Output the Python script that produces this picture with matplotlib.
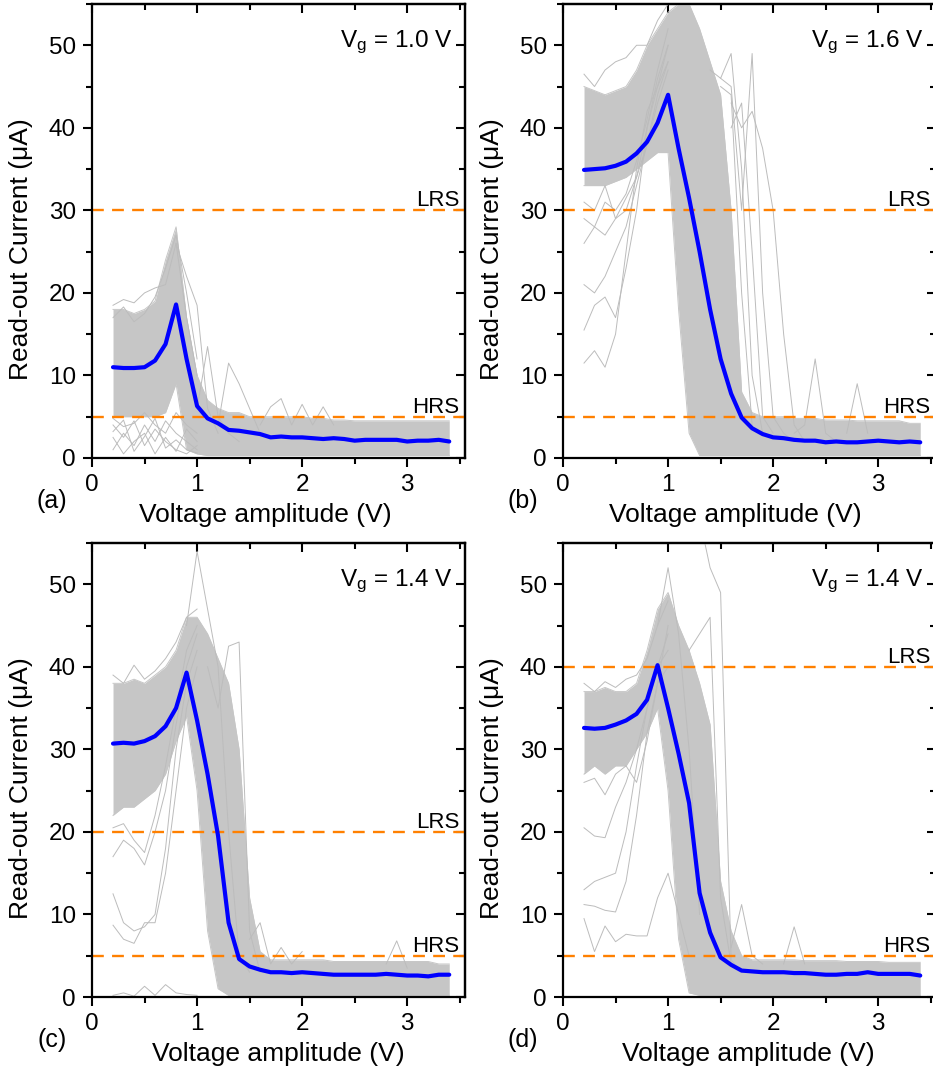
import numpy as np
import matplotlib.pyplot as plt
from matplotlib.ticker import MultipleLocator, NullFormatter

plt.rcParams['font.family'] = ['Liberation Sans', 'DejaVu Sans']
plt.rcParams['mathtext.fontset'] = 'custom'
plt.rcParams['mathtext.rm'] = 'Liberation Sans'
plt.rcParams['mathtext.it'] = 'Liberation Sans'

# voltage sweep (V)
volt = [0.2, 0.3, 0.4, 0.5, 0.6, 0.7, 0.8, 0.9, 1.0, 1.1, 1.2, 1.3, 1.4, 1.5, 1.6, 1.7, 1.8,
        1.9, 2.0, 2.1, 2.2, 2.3, 2.4, 2.5, 2.6, 2.7, 2.8, 2.9, 3.0, 3.1, 3.2, 3.3, 3.4]
x9 = [0.2, 0.3, 0.4, 0.5, 0.6, 0.7, 0.8, 0.9, 1.0]

# average read-out current (uA)
a_mean = [11.0, 10.9, 10.9, 11.0, 11.8, 13.8, 18.6, 12.0, 6.3, 4.8, 4.2, 3.4, 3.3, 3.1, 2.9, 2.5, 2.6,
          2.5, 2.5, 2.4, 2.3, 2.4, 2.3, 2.1, 2.2, 2.2, 2.2, 2.2, 2.0, 2.1, 2.1, 2.2, 2.0]
b_mean = [34.9, 35.0, 35.1, 35.4, 35.9, 36.9, 38.3, 40.6, 44.0, 37.5, 31.5, 25.0, 18.0, 12.0, 7.8, 4.9, 3.6,
          2.9, 2.5, 2.4, 2.2, 2.1, 2.1, 1.9, 2.0, 1.9, 1.9, 2.0, 2.1, 2.0, 1.9, 2.0, 1.9]
c_mean = [30.7, 30.8, 30.7, 31.0, 31.6, 32.8, 35.0, 39.3, 33.5, 27.0, 19.5, 9.0, 4.6, 3.7, 3.3, 3.0, 3.0,
          2.9, 3.0, 2.9, 2.8, 2.7, 2.7, 2.7, 2.7, 2.7, 2.8, 2.7, 2.6, 2.6, 2.5, 2.7, 2.7]
d_mean = [32.6, 32.5, 32.6, 33.0, 33.5, 34.3, 36.0, 40.2, 35.0, 29.5, 23.5, 12.6, 7.8, 4.8, 3.9, 3.2, 3.1,
          3.0, 3.0, 3.0, 2.9, 2.9, 2.8, 2.7, 2.7, 2.8, 2.8, 3.0, 2.8, 2.8, 2.8, 2.8, 2.6]

# dense band of the individual cycles (lower / upper edge)
a_lo = [5.0, 5.0, 5.0, 5.0, 5.0, 5.5, 9.0, 1.0, 0.5, 0.3, 0.3, 0.3, 0.3, 0.3, 0.3, 0.3, 0.3,
        0.3, 0.3, 0.3, 0.3, 0.3, 0.3, 0.3, 0.3, 0.3, 0.3, 0.3, 0.3, 0.3, 0.3, 0.3, 0.3]
a_hi = [18.0, 18.0, 17.5, 18.0, 19.0, 24.0, 28.0, 17.0, 10.0, 7.0, 6.0, 5.5, 5.5, 5.0, 5.0, 5.0, 5.0,
        5.0, 5.0, 4.8, 4.8, 4.6, 4.6, 4.5, 4.5, 4.5, 4.5, 4.5, 4.5, 4.5, 4.5, 4.5, 4.5]
b_lo = [33.0, 33.0, 33.0, 33.5, 34.0, 35.0, 36.0, 37.0, 37.0, 18.0, 3.0, 0.3, 0.3, 0.3, 0.3, 0.3, 0.3,
        0.3, 0.3, 0.3, 0.3, 0.3, 0.3, 0.3, 0.3, 0.3, 0.3, 0.3, 0.3, 0.3, 0.3, 0.3, 0.3]
b_hi = [45.0, 44.5, 44.0, 44.5, 45.0, 47.0, 50.0, 52.0, 54.0, 55.0, 55.0, 52.0, 48.0, 44.0, 30.0, 8.0, 5.5,
        5.0, 5.0, 5.0, 4.8, 4.8, 4.8, 4.6, 4.6, 4.6, 4.5, 4.5, 4.5, 4.5, 4.5, 4.2, 4.2]
c_lo = [22.0, 23.0, 23.0, 24.0, 25.0, 27.0, 31.0, 34.0, 25.0, 8.0, 1.0, 0.2, 0.2, 0.2, 0.2, 0.2, 0.2,
        0.2, 0.2, 0.2, 0.2, 0.2, 0.2, 0.2, 0.2, 0.2, 0.2, 0.2, 0.2, 0.2, 0.2, 0.2, 0.2]
c_hi = [38.0, 38.0, 38.5, 38.0, 39.0, 40.0, 42.0, 46.0, 46.0, 44.0, 41.0, 38.0, 30.0, 12.0, 5.5, 4.5, 4.5,
        4.5, 4.5, 4.5, 4.5, 4.3, 4.3, 4.3, 4.3, 4.3, 4.3, 4.3, 4.3, 4.3, 4.3, 4.0, 4.0]
d_lo = [27.0, 28.0, 27.0, 28.0, 28.0, 30.0, 32.0, 35.0, 25.0, 7.0, 0.5, 0.2, 0.2, 0.2, 0.2, 0.2, 0.2,
        0.2, 0.2, 0.2, 0.2, 0.2, 0.2, 0.2, 0.2, 0.2, 0.2, 0.2, 0.2, 0.2, 0.2, 0.2, 0.2]
d_hi = [37.0, 37.0, 37.5, 37.0, 37.0, 38.0, 42.0, 47.0, 49.0, 45.0, 42.0, 38.0, 33.0, 14.0, 8.0, 5.0, 4.5,
        4.5, 4.5, 4.5, 4.5, 4.4, 4.4, 4.4, 4.4, 4.3, 4.3, 4.3, 4.3, 4.2, 4.2, 4.2, 4.2]

# scattered single cycles outside the dense band
a_traces = [
    (x9, [18.5, 19.2, 18.8, 20.0, 20.6, 21.0, 26.0, 17.0, 10.0]),
    (x9, [17.0, 18.3, 16.5, 17.5, 19.5, 23.0, 27.0, 20.0, 12.0]),
    (x9, [4.0, 2.5, 4.5, 1.5, 3.5, 2.0, 1.0, 0.5, 1.5]),
    (x9, [1.0, 3.0, 1.5, 4.0, 2.0, 4.5, 3.0, 2.0, 1.0]),
    (x9, [2.5, 0.5, 2.0, 3.0, 0.5, 2.5, 0.8, 3.5, 2.0]),
    (x9, [4.8, 3.8, 4.2, 5.5, 4.0, 3.0, 5.5, 4.0, 3.0]),
    (x9, [3.2, 4.6, 0.8, 2.6, 4.8, 1.2, 2.2, 1.0, 0.6]),
    ([0.8, 0.9, 1.0, 1.1, 1.2], [26.0, 22.0, 18.5, 6.0, 3.0]),
    ([1.0, 1.1, 1.2, 1.3, 1.4], [6.0, 13.5, 5.0, 3.0, 2.0]),
    ([1.2, 1.3, 1.4, 1.5, 1.6], [4.0, 11.5, 9.0, 6.0, 3.0]),
    ([1.6, 1.7, 1.8, 1.9, 2.0, 2.1, 2.2, 2.3], [4.0, 6.2, 7.2, 4.0, 6.5, 4.0, 6.2, 4.0]),
]
b_traces = [
    (x9, [11.5, 13.0, 11.0, 15.0, 25.0, 35.0, 42.0, 45.0, 48.0]),
    (x9, [15.5, 18.5, 19.5, 17.0, 23.0, 30.0, 40.0, 46.0, 50.0]),
    (x9, [21.0, 20.0, 22.0, 25.0, 28.0, 33.0, 38.0, 44.0, 48.0]),
    (x9, [26.0, 28.0, 27.0, 29.0, 30.0, 34.0, 40.0, 45.0, 50.0]),
    (x9, [29.0, 28.0, 31.0, 30.0, 32.0, 36.0, 41.0, 47.0, 52.0]),
    (x9, [31.0, 30.0, 33.0, 29.0, 31.5, 34.0, 38.0, 43.0, 47.0]),
    (x9, [46.5, 45.0, 47.0, 48.0, 48.5, 50.0, 50.0, 53.0, 55.0]),
    ([1.5, 1.6, 1.7, 1.8, 1.9, 2.0, 2.1, 2.2], [46.0, 45.0, 30.0, 49.0, 20.0, 5.0, 3.0, 2.0]),
    ([1.6, 1.7, 1.8, 1.9, 2.0, 2.1, 2.2, 2.3], [43.0, 40.0, 42.0, 37.5, 30.0, 15.0, 4.0, 2.0]),
    ([1.4, 1.5, 1.6, 1.7, 1.8, 1.9], [47.0, 46.0, 49.0, 35.0, 10.0, 3.0]),
    ([1.5, 1.6, 1.7, 1.8], [45.0, 44.0, 20.0, 4.0]),
    ([1.6, 1.7, 1.8, 1.9, 2.0], [40.0, 43.0, 25.0, 5.0, 3.0]),
    ([2.2, 2.3, 2.4, 2.5, 2.6], [3.0, 4.0, 12.0, 3.0, 2.0]),
    ([2.7, 2.8, 2.9], [3.0, 9.0, 3.0]),
]
c_traces = [
    (x9, [8.7, 7.0, 6.5, 9.0, 9.0, 15.0, 25.0, 35.0, 40.0]),
    (x9, [12.5, 9.0, 8.0, 8.5, 10.0, 18.0, 30.0, 38.0, 42.0]),
    (x9, [17.0, 19.0, 18.0, 16.0, 20.0, 25.0, 33.0, 40.0, 44.0]),
    (x9, [20.5, 21.0, 19.0, 17.5, 22.0, 28.0, 35.0, 42.0, 45.0]),
    (x9, [0.2, 0.5, 0.1, 1.3, 0.2, 1.5, 0.5, 0.3, 0.2]),
    (x9, [39.0, 38.0, 40.2, 38.5, 39.5, 41.0, 43.0, 46.0, 47.0]),
    ([0.9, 1.0, 1.1, 1.2, 1.3, 1.4, 1.5], [45.0, 54.0, 47.0, 40.0, 20.0, 5.0, 3.0]),
    ([1.1, 1.2, 1.3, 1.4, 1.5, 1.6], [40.0, 35.0, 42.5, 43.0, 8.0, 3.0]),
    ([1.5, 1.6, 1.7, 1.8, 1.9, 2.0], [7.0, 9.0, 4.0, 6.0, 4.0, 5.5]),
    ([2.8, 2.9, 3.0], [4.0, 6.8, 3.5]),
]
d_traces = [
    (x9, [13.0, 14.0, 14.5, 15.0, 20.0, 28.0, 35.0, 40.0, 42.0]),
    (x9, [11.2, 11.0, 10.5, 10.3, 14.0, 22.0, 32.0, 38.0, 40.0]),
    (volt[:11], [9.5, 5.5, 8.6, 6.7, 7.6, 7.4, 7.4, 12.0, 15.0, 10.0, 5.0]),
    (x9, [20.5, 19.5, 19.3, 23.0, 26.0, 30.0, 35.0, 40.0, 44.0]),
    (x9, [26.0, 26.5, 24.5, 27.0, 28.0, 26.0, 31.0, 38.0, 45.0]),
    (x9, [38.0, 37.0, 38.2, 37.5, 38.5, 39.0, 41.0, 45.0, 48.0]),
    ([0.9, 1.0, 1.1, 1.2, 1.3], [45.0, 52.0, 44.0, 30.0, 10.0]),
    ([1.2, 1.3, 1.4, 1.5, 1.6], [42.0, 44.0, 46.0, 12.0, 4.0]),
    ([1.3, 1.4, 1.5, 1.6, 1.7], [58.0, 52.0, 49.0, 4.5, 3.0]),
    ([1.6, 1.7, 1.8, 1.9], [6.0, 11.2, 5.0, 4.0]),
    ([2.1, 2.2, 2.3], [4.0, 8.5, 4.0]),
]

lrs_level = [30, 30, 20, 40]
hrs_level = [5, 5, 5, 5]
vg_text = ['1.0', '1.6', '1.4', '1.4']
tags = ['(a)', '(b)', '(c)', '(d)']

GRAY = '#c6c6c6'
W, H = 933, 1074
fig = plt.figure(figsize=(W / 100, H / 100), dpi=100)

# axes boxes in pixels: left edge, x-axis height (y from top)
boxes = [(92, 458), (563, 458), (92, 997), (563, 997)]
xlab_x = [0.464, 0.461, 0.5, 0.496]

panels = [
    (a_mean, a_lo, a_hi, a_traces),
    (b_mean, b_lo, b_hi, b_traces),
    (c_mean, c_lo, c_hi, c_traces),
    (d_mean, d_lo, d_hi, d_traces),
]

for i, (mean, lo, hi, traces) in enumerate(panels):
    left, base = boxes[i]
    ax = fig.add_axes([left / W, (H - base) / H, 373 / W, 454 / H])

    # individual cycles
    ax.fill_between(volt, lo, hi, color=GRAY, lw=0)
    ax.plot(volt, lo, color=GRAY, lw=0.7)
    ax.plot(volt, hi, color=GRAY, lw=0.7)
    for tx, ty in traces:
        ax.plot(tx, ty, color='#bcbcbc', lw=0.7)

    # thresholds
    for lev, name in [(lrs_level[i], 'LRS'), (hrs_level[i], 'HRS')]:
        ax.axhline(lev, color='#ff8000', lw=1.7, ls=(0, (5, 3.5)))
        ax.text(3.5, lev + 0.5, name, ha='right', va='baseline', fontsize=16)

    # average
    ax.plot(volt, mean, color='#0000ff', lw=3, solid_capstyle='round')

    ax.text(3.43, 49.8, r'V$_\mathrm{g}$ = ' + vg_text[i] + ' V', ha='right', va='baseline', fontsize=17.5)

    ax.set_xlim(0, 3.55)
    ax.set_ylim(0, 55)
    ax.xaxis.set_major_locator(MultipleLocator(1))
    ax.xaxis.set_minor_locator(MultipleLocator(0.5))
    ax.yaxis.set_major_locator(MultipleLocator(10))
    ax.yaxis.set_minor_locator(MultipleLocator(5))
    ax.tick_params(which='major', direction='out', length=6.5, width=1.5, labelsize=17.5, pad=5)
    ax.tick_params(which='minor', direction='out', length=4, width=1.5)
    for sp in ax.spines.values():
        sp.set_linewidth(1.6)

    top = ax.secondary_xaxis('top')
    top.xaxis.set_major_locator(MultipleLocator(1))
    top.xaxis.set_minor_locator(MultipleLocator(0.5))
    top.xaxis.set_major_formatter(NullFormatter())
    top.tick_params(which='major', direction='in', length=6.5, width=1.5)
    top.tick_params(which='minor', direction='in', length=4, width=1.5)
    right = ax.secondary_yaxis('right')
    right.yaxis.set_major_locator(MultipleLocator(10))
    right.yaxis.set_minor_locator(MultipleLocator(5))
    right.yaxis.set_major_formatter(NullFormatter())
    right.tick_params(which='major', direction='in', length=6.5, width=1.5)
    right.tick_params(which='minor', direction='in', length=4, width=1.5)
    for sec in (top, right):
        for sp in sec.spines.values():
            sp.set_linewidth(1.6)

    ax.set_xlabel('Voltage amplitude (V)', fontsize=19)
    ax.set_ylabel('Read-out Current (\u03bcA)', fontsize=19)
    ax.xaxis.set_label_coords(xlab_x[i], -0.10)
    ax.yaxis.set_label_coords(-0.158, 0.46)

    fig.text((left - 40) / W, 1 - (base + 43) / H, tags[i], ha='center', va='center', fontsize=18)

fig.savefig('out.png', dpi=100)
